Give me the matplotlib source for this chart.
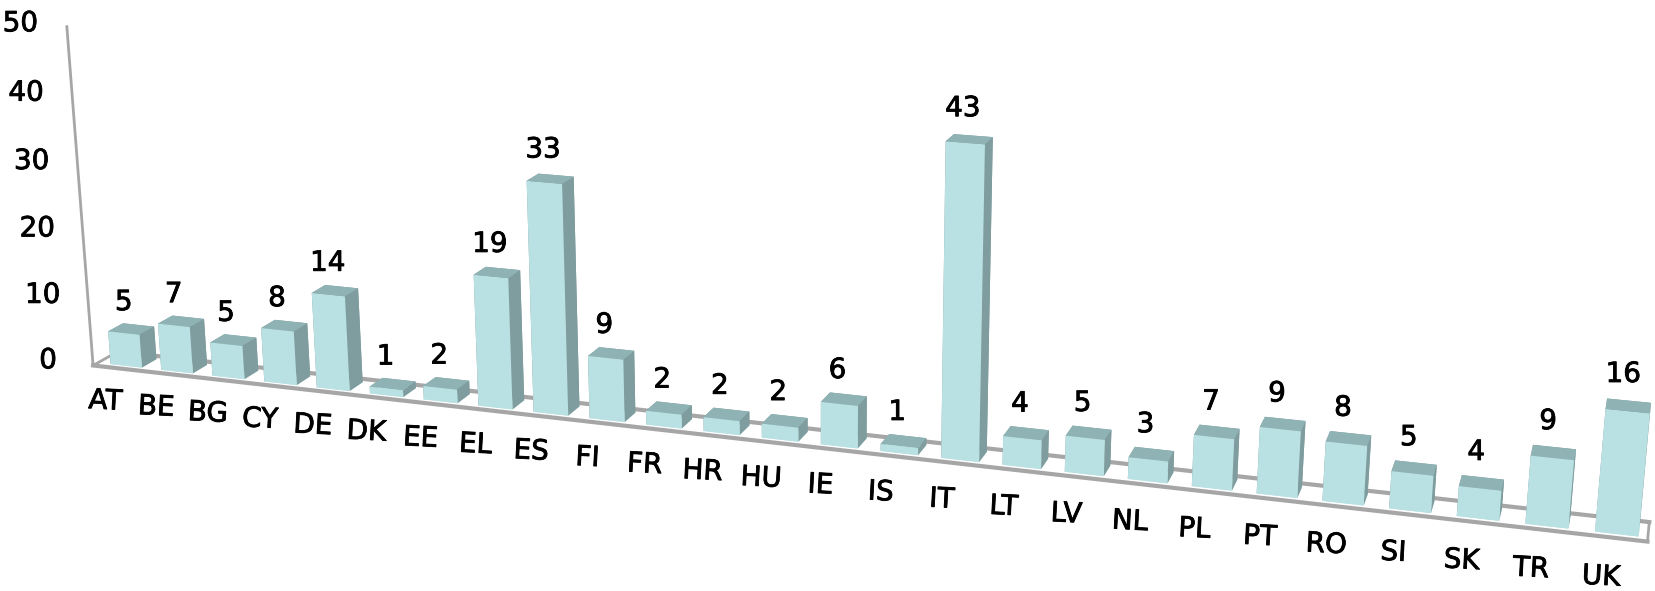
import numpy as np
import matplotlib
matplotlib.use("Agg")
import matplotlib.pyplot as plt
import matplotlib.patheffects as pe
from mpl_toolkits.mplot3d import proj3d

countries = ["AT", "BE", "BG", "CY", "DE", "DK", "EE", "EL", "ES", "FI", "FR", "HR", "HU",
             "IE", "IS", "IT", "LT", "LV", "NL", "PL", "PT", "RO", "SI", "SK", "TR", "UK"]
values = [5, 7, 5, 8, 14, 1, 2, 19, 33, 9, 2, 2, 2, 6, 1, 43, 4, 5, 3, 7, 9, 8, 5, 4, 9, 16]
yticks = [0, 10, 20, 30, 40, 50]

# faces in bar3d order: bottom, top, front, back, left, right
face_colors = ["#b9e1e3", "#8fb3b5", "#b9e1e3", "#7f9c9e", "#7f9c9e", "#7f9c9e"]

fig = plt.figure(figsize=(16.56, 5.91), dpi=100)
# 3d axes always fit a square, so make it as big as the figure width
ax = fig.add_axes([-0.024, -0.878, 1, 1656 / 591], projection="3d", computed_zorder=False)
ax.set_proj_type("persp", focal_length=0.31)
ax.view_init(elev=16.5, azim=-72)
ax.set_box_aspect((26, 0.8, 6), zoom=0.988)

x = np.arange(len(values))
ax.plot([0, 26], [1, 1], [0, 0], color="#a6a6a6", lw=3, zorder=1, clip_on=False)
ax.plot([0, 0], [0, 1], [0, 0], color="#a6a6a6", lw=2, zorder=1, clip_on=False)
ax.plot([26, 26], [0, 1], [0, 0], color="#a6a6a6", lw=2, zorder=1, clip_on=False)
bars = ax.bar3d(x + 0.25, np.full(len(x), 0.2), np.zeros(len(x)), 0.62, 0.6, values,
                color=face_colors * len(x), shade=False, edgecolor="none", zorder=2)
# the axes stops short of the right edge, the last bar must not be cut there
bars.set_clip_on(False)
ax.plot([0, 26], [0, 0], [0, 0], color="#a6a6a6", lw=3, zorder=3, clip_on=False)
ax.plot([0, 0], [0, 0], [0, 50], color="#a6a6a6", lw=2, zorder=1, clip_on=False)
ax.set_xlim(0, 26)
ax.set_ylim(0, 1)
ax.set_zlim(0, 50)
ax.set_axis_off()


def label(x3, y3, z3, s, **kw):
    # plain 2d text at the projected spot
    px, py, _ = proj3d.proj_transform(x3, y3, z3, ax.get_proj())
    ax.text2D(px, py, s, transform=ax.transData, ha="center", va="center", fontsize=20, zorder=4,
              path_effects=[pe.withStroke(linewidth=0.6, foreground="black")], **kw)


for i, (c, v) in enumerate(zip(countries, values)):
    label(i + 0.45, 0.5, v + 4, str(v))
    label(i + 0.4, -0.4, -4.2, c, rotation=-3)
for t in yticks:
    label(-0.9, 0, t, str(t))

fig.savefig("out.png", dpi=100)
